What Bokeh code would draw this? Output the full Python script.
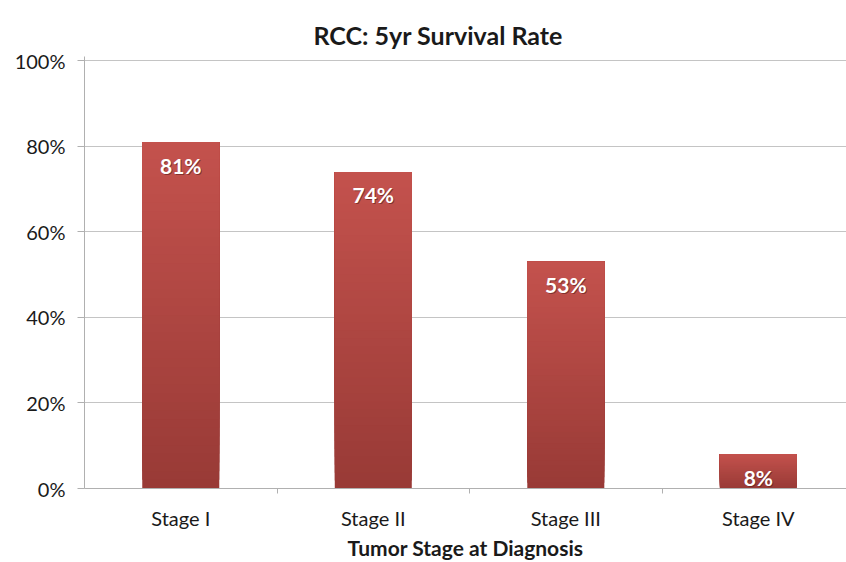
import numpy as np
from bokeh.plotting import figure
from bokeh.models import Range1d, FixedTicker, ColumnDataSource
from bokeh.core.properties import value
from bokeh.embed import file_html
from bokeh.resources import INLINE

# Five-year survival of renal cell carcinoma by stage at diagnosis
stages = ["Stage I", "Stage II", "Stage III", "Stage IV"]
survival = [0.81, 0.74, 0.53, 0.08]
value_labels = ["81%", "74%", "53%", "8%"]
y_ticks = [0.0, 0.2, 0.4, 0.6, 0.8, 1.0]
y_tick_labels = ["0%", "20%", "40%", "60%", "80%", "100%"]

FONT = "Lato"
BAR_WIDTH = 0.4
TOP_RGB = np.array([196, 82, 77])
BOTTOM_RGB = np.array([152, 58, 54])
N_SLICES = 40

centers = [i + 0.5 for i in range(len(stages))]

# each bar is painted as overlapping layers (each from a slice start up to the
# bar's top) so the colour fades from dark at the base to light at the top
xs, bottoms, tops, colors = [], [], [], []
for c, v in zip(centers, survival):
    for k in range(N_SLICES):
        t = (k + 0.5) / N_SLICES
        rgb = (BOTTOM_RGB + (TOP_RGB - BOTTOM_RGB) * t).round().astype(int)
        xs.append(c)
        bottoms.append(v * k / N_SLICES)
        tops.append(v)
        colors.append("#%02x%02x%02x" % tuple(rgb))
slices = ColumnDataSource(dict(x=xs, bottom=bottoms, top=tops, color=colors))
labels = ColumnDataSource(dict(x=centers, y=survival, text=value_labels))

p = figure(width=846, height=562,
           x_range=Range1d(0, 3.958), y_range=Range1d(0, 1.01),
           output_backend="svg", toolbar_location=None,
           min_border_left=84, min_border_right=0,
           min_border_top=56, min_border_bottom=70)
p.outline_line_color = None
p.background_fill_color = "white"

p.title.text = "RCC: 5yr Survival Rate"
p.title.text_font = FONT
p.title.text_font_style = "bold"
p.title.text_font_size = "25px"
p.title.text_color = "#1a1a1a"
p.title.align = "left"
p.title.offset = 229
p.title.standoff = 14

p.vbar(x="x", bottom="bottom", top="top", width=BAR_WIDTH, source=slices,
       fill_color="color", line_color=None)

# value labels with a soft dark shadow
p.text(x="x", y="y", text="text", source=labels, x_offset=1, y_offset=24,
       text_align="center", text_baseline="middle", text_font=value(FONT),
       text_font_style="bold", text_font_size="21px", text_color="#5a1c1a",
       text_alpha=0.6)
p.text(x="x", y="y", text="text", source=labels, y_offset=23,
       text_align="center", text_baseline="middle", text_font=value(FONT),
       text_font_style="bold", text_font_size="21px", text_color="white")

# axes
p.yaxis.ticker = FixedTicker(ticks=y_ticks)
p.yaxis.major_label_overrides = dict(zip(y_ticks, y_tick_labels))
p.yaxis.major_label_text_font = FONT
p.yaxis.major_label_text_font_size = "20px"
p.yaxis.major_label_text_color = "#1a1a1a"
p.yaxis.major_label_standoff = 12
p.yaxis.axis_line_color = "#b0b0b0"
p.yaxis.major_tick_line_color = "#b0b0b0"
p.yaxis.major_tick_in = 0
p.yaxis.major_tick_out = 7
p.yaxis.minor_tick_line_color = None

p.xaxis.ticker = FixedTicker(ticks=centers, minor_ticks=[1, 2, 3])
p.xaxis.major_label_overrides = dict(zip(centers, stages))
p.xaxis.major_label_text_font = FONT
p.xaxis.major_label_text_font_size = "20px"
p.xaxis.major_label_text_color = "#1a1a1a"
p.xaxis.major_label_standoff = 11
p.xaxis.axis_line_color = "#b0b0b0"
p.xaxis.major_tick_line_color = None
p.xaxis.minor_tick_line_color = "#b0b0b0"
p.xaxis.minor_tick_in = 0
p.xaxis.minor_tick_out = 5
p.xaxis.axis_label = "Tumor Stage at Diagnosis"
p.xaxis.axis_label_text_font = FONT
p.xaxis.axis_label_text_font_style = "bold"
p.xaxis.axis_label_text_font_size = "21px"
p.xaxis.axis_label_text_color = "#1a1a1a"
p.xaxis.axis_label_standoff = 2

p.xgrid.grid_line_color = None
p.ygrid.ticker = FixedTicker(ticks=y_ticks)
p.ygrid.grid_line_color = "#c4c4c4"

open("out.html", "w").write(file_html(p, INLINE))
